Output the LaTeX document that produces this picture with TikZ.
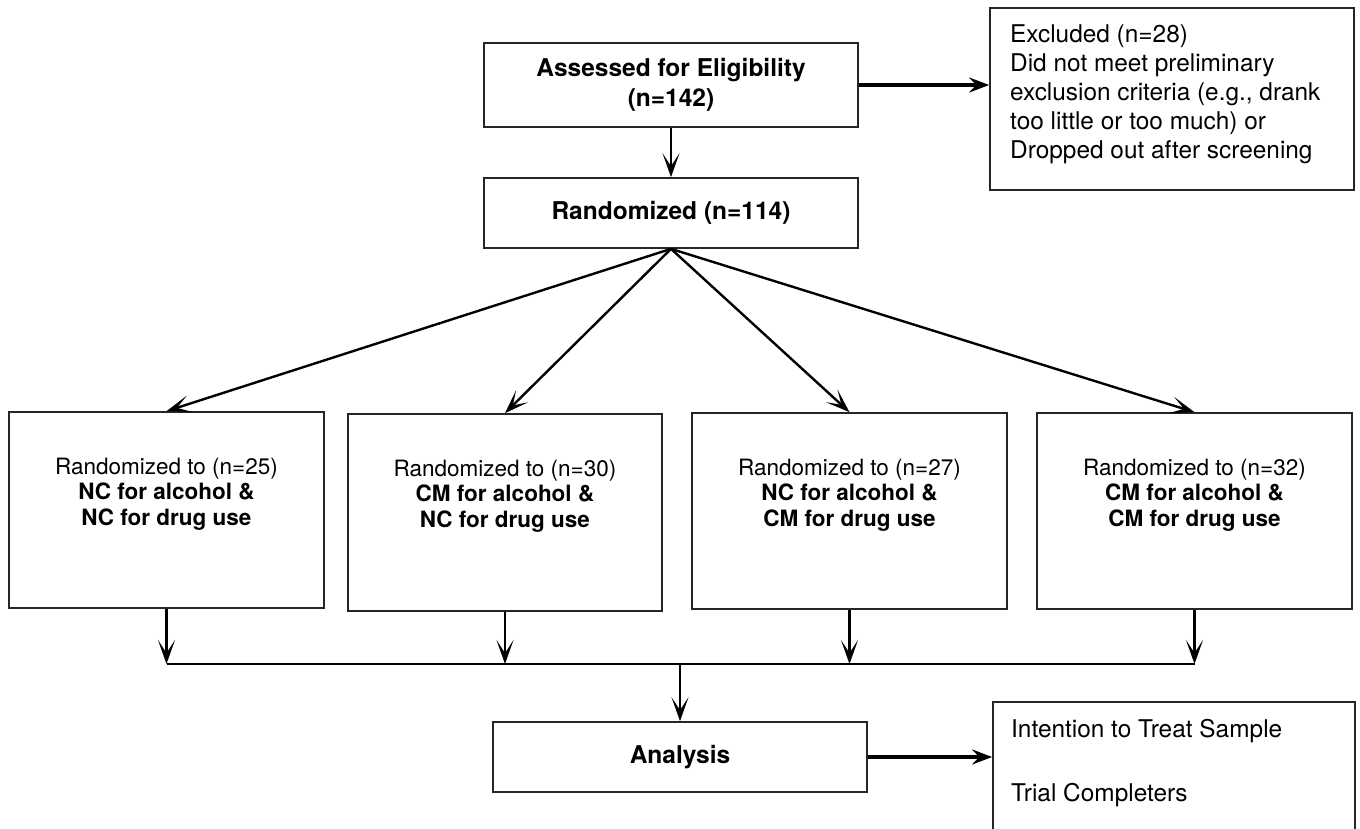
\documentclass[tikz,border=0pt]{standalone}
\usepackage{fontspec}
\setmainfont{TeX Gyre Heros}
\usetikzlibrary{arrows.meta,calc}
\begin{document}
\begin{tikzpicture}[x=1pt,y=-1pt,
  box/.style={draw=black!85, line width=1.7pt, inner sep=0pt},
  big/.style={font=\fontsize{24.5}{30}\selectfont\bfseries, align=center},
  mid/.style={font=\fontsize{22.5}{25.7}\selectfont, align=center, inner sep=0pt},
  note/.style={font=\fontsize{24.4}{29}\selectfont, align=left, anchor=north west, inner sep=0pt},
  conn/.style={line width=2.4pt, -{Stealth[length=24pt,width=17pt,inset=13pt]}},
  heavyconn/.style={line width=3.4pt, -{Stealth[length=20pt,width=15pt,inset=7pt]}},
  plainline/.style={line width=2.2pt}]
\useasboundingbox (0,0) rectangle (1360,828);
\clip (0,0) rectangle (1360,828);
\fill[white] (0,0) rectangle (1360,828);

% top
\node[box, big, minimum width=374pt, minimum height=84pt] (assess) at (671,85) {Assessed for Eligibility\\(n=142)};
\node[box, big, minimum width=374pt, minimum height=70pt] (rand) at (671,213) {Randomized (n=114)};
\node[box, minimum width=364pt, minimum height=182pt] (excl) at (1172,99) {};
\node[note] (excltext) at (1010,25) {Excluded (n=28)\\Did not meet preliminary\\exclusion criteria (e.g., drank\\too little or too much) or\\Dropped out after screening};

% groups
\node[box, minimum width=315pt, minimum height=196pt] (g1) at (166.5,510) {};
\node[box, minimum width=314pt, minimum height=197pt] (g2) at (505,512.5) {};
\node[box, minimum width=315pt, minimum height=196pt] (g3) at (849.5,511) {};
\node[box, minimum width=315pt, minimum height=196pt] (g4) at (1194.5,511) {};
\node[mid] (t1) at (166.5,494) {Randomized to (n=25)\\\textbf{NC for alcohol \&}\\\textbf{NC for drug use}};
\node[mid] (t2) at (505,496) {Randomized to (n=30)\\\textbf{CM for alcohol \&}\\\textbf{NC for drug use}};
\node[mid] (t3) at (849.5,495) {Randomized to (n=27)\\\textbf{NC for alcohol \&}\\\textbf{CM for drug use}};
\node[mid] (t4) at (1194.5,495) {Randomized to (n=32)\\\textbf{CM for alcohol \&}\\\textbf{CM for drug use}};

% bottom
\node[box, big, minimum width=374pt, minimum height=70pt] (ana) at (680,757) {Analysis};
\node[box, minimum width=362pt, minimum height=176pt] (res) at (1174,790) {};
\node[note] (restext) at (1011,719) {Intention to Treat Sample\\[35pt]Trial Completers};

% connectors
\draw[heavyconn] (assess.east) -- (assess.east -| excl.west);
\draw[conn] (assess.south) -- (rand.north);
\foreach \g in {g1,g2,g3,g4} \draw[conn] (rand.south) -- (\g.north);
\coordinate (hl) at (0,664);
\foreach \g/\j in {g1/j1,g2/j2,g3/j3,g4/j4} {
  \coordinate (\j) at (\g.south |- hl);
  \draw[conn] (\g.south) -- (\j);
}
\draw[plainline] (j1) -- (j4);
\coordinate (jm) at (ana.north |- hl);
\draw[conn] (jm) -- (ana.north);
\draw[heavyconn] (ana.east) -- (ana.east -| res.west);
\end{tikzpicture}
\end{document}
